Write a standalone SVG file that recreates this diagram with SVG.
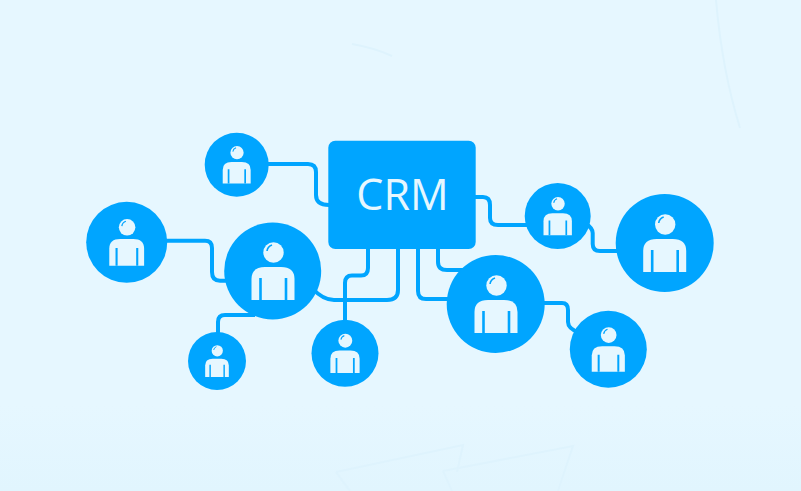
<svg xmlns="http://www.w3.org/2000/svg" width="801" height="491" viewBox="0 0 801 491">
  <style>
    .bg-line { fill: none; stroke: #def3fd; stroke-width: 2; }
    .wire { fill: none; stroke: #00a5ff; stroke-width: 4; stroke-linejoin: round; }
    .disc { fill: #00a5ff; }
    .pale { fill: #e6f7ff; }
    .slit { stroke: #00a5ff; stroke-width: 2.6; fill: none; }
    .crm { font-family: "Open Sans", "Noto Sans", sans-serif; font-size: 43px; fill: #e6f7ff; }
  </style>
  <defs>
    <linearGradient id="band" x1="0" y1="0" x2="0" y2="1">
      <stop offset="0" stop-color="#e6f7ff"/>
      <stop offset="1" stop-color="#e1f5fe"/>
    </linearGradient>
    <g id="person">
      <circle class="pale" cx="0.5" cy="-18.5" r="10.2"/>
      <path d="M-6 -20 A7.500 7.500 0 0 1 -1 -26" fill="none" stroke="#00a5ff" stroke-width="1.6"/>
      <path class="pale" d="M-21.500 29 V8 Q-21.500 -4 -8 -4 H8 Q21.500 -4 21.500 8 V29 Z"/>
      <path class="slit" d="M-12.500 29 V7 M13 29 V7"/>
    </g>
  </defs>
  <rect id="background" width="801" height="491" fill="#e6f7ff"/>
  <g id="backdrop">
    <rect y="405" width="801" height="86" fill="url(#band)"/>
    <path class="bg-line" d="M336 472 L463 445 L457 472 M336 472 L350 491"/>
    <path class="bg-line" d="M443 471 L573 446 L558 491 M443 471 L452 491"/>
    <path class="bg-line" d="M716 0 Q722 70 740 128"/>
    <path class="bg-line" d="M352 44 Q375 48 392 56"/>
  </g>
  <g id="connectors">
    <path class="wire" d="M264 164 H308 Q316 164 316 172 V195 Q316 205 329 205"/>
    <path class="wire" d="M165 240.700 H205 Q212 240.700 212 248 V272 Q212 280.700 220 280.700 H230"/>
    <path class="wire" d="M255 315 H225 Q218 315 218 322 V336"/>
    <path class="wire" d="M345 324 V283 Q345 275.500 352 275.500 H361 Q368 275.500 368 268 V248"/>
    <path class="wire" d="M312 288 Q323 300 334 300 H387 Q398 300 398 290 V248"/>
    <path class="wire" d="M418 248 V291 Q418 299 426 299 H452"/>
    <path class="wire" d="M438 248 V262 Q438 270 447 270 H466"/>
    <path class="wire" d="M475 197 H483 Q490 197 490 205 V218 Q490 225 498 225 H530"/>
    <path class="wire" d="M585 223 Q592.700 228 592.700 233 V244 Q592.700 251 600 251 H622"/>
    <path class="wire" d="M540 303 H562 Q568 303 568 310 V322 Q568 329 580 333"/>
  </g>
  <g id="crm">
    <rect class="disc" x="328.300" y="140.700" width="147.400" height="108.300" rx="7"/>
    <text class="crm" x="402.500" y="210" text-anchor="middle">CRM</text>
  </g>
  <g id="node-1"><circle class="disc" cx="236.700" cy="164.700" r="32"/><use href="#person" transform="translate(236.700 164.700) scale(.65)"/></g>
  <g id="node-2"><circle class="disc" cx="126.700" cy="242.300" r="40.500"/><use href="#person" transform="translate(126.700 242.300) scale(.81)"/></g>
  <g id="node-3"><circle class="disc" cx="272.700" cy="271" r="48.500"/><use href="#person" transform="translate(273 271)"/></g>
  <g id="node-4"><circle class="disc" cx="217" cy="361" r="29"/><use href="#person" transform="translate(217 361) scale(.55)"/></g>
  <g id="node-5"><circle class="disc" cx="345" cy="353.300" r="33.500"/><use href="#person" transform="translate(345 353.300) scale(.68)"/></g>
  <g id="node-6"><circle class="disc" cx="495.700" cy="304" r="49"/><use href="#person" transform="translate(496 304)"/></g>
  <g id="node-7"><circle class="disc" cx="557.700" cy="216" r="33"/><use href="#person" transform="translate(557.700 216) scale(.66)"/></g>
  <g id="node-8"><circle class="disc" cx="664.700" cy="243" r="49"/><use href="#person" transform="translate(664.700 243)"/></g>
  <g id="node-9"><circle class="disc" cx="608.300" cy="349.300" r="38.500"/><use href="#person" transform="translate(608.300 349.300) scale(.77)"/></g>
</svg>
